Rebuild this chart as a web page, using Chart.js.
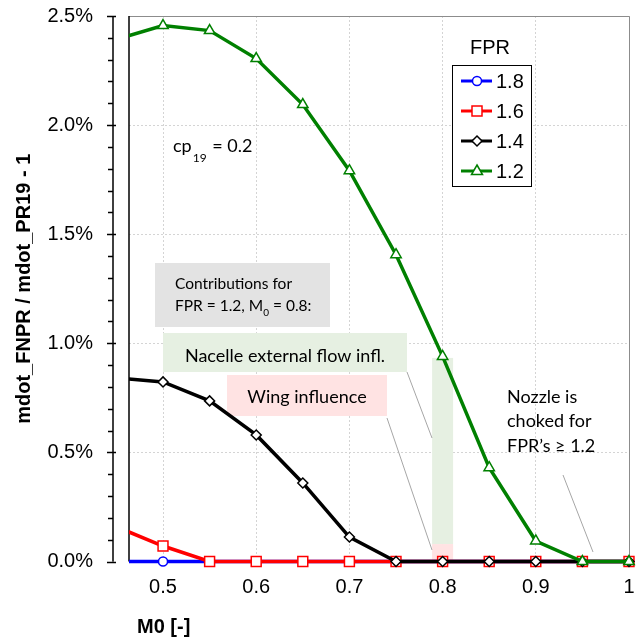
<!DOCTYPE html>
<html>
<head>
<meta charset="utf-8">
<script src="https://cdn.jsdelivr.net/npm/chart.js@4"></script>
<style>
  html, body { margin: 0; padding: 0; background: #fff; }
</style>
</head>
<body>
<canvas id="canvas_chart" width="640" height="639"></canvas>
<script>
// M0 values (first point lies left of the axis and is clipped)
const machNumbers = [0.45, 0.5, 0.55, 0.6, 0.65, 0.7, 0.75, 0.8, 0.85, 0.9, 0.95, 1.0];
// mdot_FNPR / mdot_PR19 - 1, in percent
const fpr18 = [0, 0, 0, 0, 0, 0, 0, 0, 0, 0, 0, 0];
const fpr16 = [0.159, 0.071, 0, 0, 0, 0, 0, 0, 0, 0, 0, 0];
const fpr14 = [0.842, 0.823, 0.736, 0.58, 0.36, 0.112, 0, 0, 0, 0, 0, 0];
const fpr12 = [2.393, 2.456, 2.433, 2.305, 2.094, 1.791, 1.406, 0.94, 0.43, 0.094, 0, 0];
const seriesLabels = ['1.8', '1.6', '1.4', '1.2'];
const xTickValues = [0.5, 0.6, 0.7, 0.8, 0.9, 1];

const ctx01 = document.getElementById('canvas_chart');
const annoFont = 'Lato, "Open Sans", sans-serif';
const axisFont = '"Liberation Sans", Arial, sans-serif';

function pts(arr) {
    return machNumbers.map((m, i) => ({ x: m, y: arr[i] }));
}

function marker(ctx, style, x, y, color) {
    ctx.save();
    ctx.fillStyle = '#fff';
    ctx.strokeStyle = color;
    ctx.lineWidth = 1.5;
    ctx.beginPath();
    if (style === 'circle') {
        ctx.arc(x, y, 4.5, 0, Math.PI * 2);
    } else if (style === 'rect') {
        ctx.rect(x - 5, y - 5, 10, 10);
    } else if (style === 'rectRot') {
        ctx.moveTo(x, y - 5); ctx.lineTo(x + 5, y); ctx.lineTo(x, y + 5); ctx.lineTo(x - 5, y);
        ctx.closePath();
    } else {
        ctx.moveTo(x, y - 6); ctx.lineTo(x + 5.5, y + 3.5); ctx.lineTo(x - 5.5, y + 3.5);
        ctx.closePath();
    }
    ctx.fill();
    ctx.stroke();
    ctx.restore();
}

const annotations = {
    id: 'annotations',
    beforeDatasetsDraw(chart) {
        const c = chart.ctx;
        const a = chart.chartArea;
        const xs = chart.scales.x;
        const ys = chart.scales.y;
        c.save();

        // plot frame
        c.strokeStyle = '#8c8c8c';
        c.lineWidth = 1;
        c.beginPath();
        c.moveTo(a.left, a.top + 0.5); c.lineTo(a.right + 0.5, a.top + 0.5); c.lineTo(a.right + 0.5, a.bottom);
        c.stroke();
        c.strokeStyle = '#000';
        c.lineWidth = 1.5;
        c.beginPath();
        c.moveTo(a.left, a.top); c.lineTo(a.left, a.bottom);
        c.stroke();

        // boxes
        c.fillStyle = '#e3e3e3';
        c.fillRect(155, 263, 175, 64);
        c.fillStyle = '#e6f0e2';
        c.fillRect(163, 333, 244, 39);
        c.fillStyle = '#ffe3e3';
        c.fillRect(227, 375, 160, 41);

        // band at M0 = 0.8
        const bx = xs.getPixelForValue(0.8);
        const top = ys.getPixelForValue(0.933);
        const mid = ys.getPixelForValue(0.08);
        c.fillStyle = '#e6f0e2';
        c.fillRect(bx - 10.5, top, 21, mid - top);
        c.fillStyle = '#ffe3e3';
        c.fillRect(bx - 10.5, mid, 21, ys.getPixelForValue(0) - mid);

        // leader lines
        c.strokeStyle = '#a6a6a6';
        c.lineWidth = 1;
        [[407, 372, 432, 438], [387, 418, 432, 550], [563, 475, 593, 552]].forEach(l => {
            c.beginPath(); c.moveTo(l[0], l[1]); c.lineTo(l[2], l[3]); c.stroke();
        });

        // texts
        c.fillStyle = '#000';
        c.textBaseline = 'alphabetic';
        c.textAlign = 'left';
        c.font = '18px ' + annoFont;
        c.fillText('cp', 173, 152);
        let w = c.measureText('cp').width;
        c.font = '12px ' + annoFont;
        c.fillText('19', 173 + w + 1, 162);
        let w2 = c.measureText('19').width;
        c.font = '18px ' + annoFont;
        c.fillText(' = 0.2', 173 + w + w2 + 2, 152);

        c.font = '15.5px ' + annoFont;
        c.fillText('Contributions for', 175, 289);
        const l2 = 'FPR = 1.2, M';
        c.fillText(l2, 175, 311);
        w = c.measureText(l2).width;
        c.font = '10px ' + annoFont;
        c.fillText('0', 175 + w, 316);
        w2 = c.measureText('0').width;
        c.font = '15.5px ' + annoFont;
        c.fillText(' = 0.8:', 175 + w + w2, 311);

        c.font = '18px ' + annoFont;
        c.textAlign = 'center';
        c.fillText('Nacelle external flow infl.', 285, 362);
        c.fillText('Wing influence', 307, 403);
        c.textAlign = 'left';
        c.fillText('Nozzle is', 507, 403);
        c.fillText('choked for', 507, 427);
        c.fillText('FPR\u2019s \u2265 1.2', 507, 452);
        c.restore();
    },
    afterDraw(chart) {
        const c = chart.ctx;
        const a = chart.chartArea;
        const ys = chart.scales.y;
        c.save();

        // y axis line, offset from the plot area, with minor ticks
        const ax = 113;
        c.strokeStyle = '#000';
        c.lineWidth = 1.5;
        c.beginPath();
        c.moveTo(ax, a.top); c.lineTo(ax, a.bottom);
        for (let k = 0; k <= 25; k++) {
            const y = Math.round(ys.getPixelForValue(k / 10)) + 0.5;
            c.moveTo(k % 5 === 0 ? 107 : 108, y);
            c.lineTo(k % 5 === 0 ? 116 : ax, y);
        }
        c.stroke();

        // axis titles
        c.fillStyle = '#000';
        c.font = 'bold 20px ' + axisFont;
        c.textAlign = 'center';
        c.textBaseline = 'alphabetic';
        c.save();
        c.translate(30, (a.top + a.bottom) / 2);
        c.rotate(-Math.PI / 2);
        c.fillText('mdot_FNPR / mdot_PR19 - 1', 0, 0);
        c.restore();
        c.textAlign = 'left';
        c.fillText('M0 [-]', 137, 633);

        // legend
        c.font = '20px ' + axisFont;
        c.textAlign = 'center';
        c.textBaseline = 'middle';
        c.fillText('FPR', 490, 48);
        c.fillStyle = '#fff';
        c.fillRect(452, 65, 79, 121);
        c.strokeStyle = '#000';
        c.lineWidth = 1;
        c.strokeRect(452.5, 65.5, 79, 121);
        const rows = [81, 111, 141, 171];
        chart.data.datasets.forEach((ds, i) => {
            const y = rows[i];
            c.strokeStyle = ds.borderColor;
            c.lineWidth = 3;
            c.beginPath(); c.moveTo(461, y); c.lineTo(492, y); c.stroke();
            marker(c, ds.pointStyle, 477, y, ds.borderColor);
            c.fillStyle = '#000';
            c.textAlign = 'left';
            c.fillText(ds.label, 496, y + 1);
        });
        c.restore();
    }
};

new Chart(ctx01, {
    type: 'line',
    data: {
        datasets: [
            {
                label: seriesLabels[0],
                data: pts(fpr18),
                borderColor: '#0000ff',
                pointStyle: 'circle',
                pointRadius: 4.5,
                order: 4
            },
            {
                label: seriesLabels[1],
                data: pts(fpr16),
                borderColor: '#ff0000',
                pointStyle: 'rect',
                pointRadius: 7,
                order: 3
            },
            {
                label: seriesLabels[2],
                data: pts(fpr14),
                borderColor: '#000000',
                pointStyle: 'rectRot',
                pointRadius: 5,
                order: 2
            },
            {
                label: seriesLabels[3],
                data: pts(fpr12),
                borderColor: '#008000',
                pointStyle: 'triangle',
                pointRadius: 6,
                order: 1
            }
        ]
    },
    options: {
        responsive: false,
        animation: false,
        layout: { padding: { top: 16, right: 11, left: 0, bottom: 0 } },
        elements: {
            line: { borderWidth: 3.5, tension: 0, fill: false },
            point: { backgroundColor: '#fff', borderWidth: 1.5, hoverRadius: 5 }
        },
        datasets: {
            line: { clip: { left: 0, top: false, right: false, bottom: false } }
        },
        scales: {
            x: {
                type: 'linear',
                min: 0.4635,
                max: 1,
                afterBuildTicks: (scale) => { scale.ticks = xTickValues.map(v => ({ value: v })); },
                afterFit: (scale) => {
                    scale.height = 77.5;
                    scale.paddingLeft = 0;
                    scale.paddingRight = 0;
                },
                ticks: {
                    font: { family: axisFont, size: 20 },
                    color: '#000',
                    padding: 14,
                    maxRotation: 0,
                    callback: (v) => String(v)
                },
                grid: { color: '#d4d4d4', drawTicks: false },
                border: { display: false, dash: [2, 2] }
            },
            y: {
                min: 0,
                max: 2.5,
                afterFit: (scale) => {
                    scale.width = 129;
                    scale.paddingTop = 0;
                    scale.paddingBottom = 0;
                },
                ticks: {
                    stepSize: 0.5,
                    font: { family: axisFont, size: 20 },
                    color: '#000',
                    padding: 36,
                    callback: (v) => v.toFixed(1) + '%'
                },
                grid: { color: '#d4d4d4', drawTicks: false },
                border: { display: false, dash: [2, 2] }
            }
        },
        plugins: {
            legend: { display: false },
            tooltip: { enabled: false }
        }
    },
    plugins: [annotations]
});
</script>
</body>
</html>
